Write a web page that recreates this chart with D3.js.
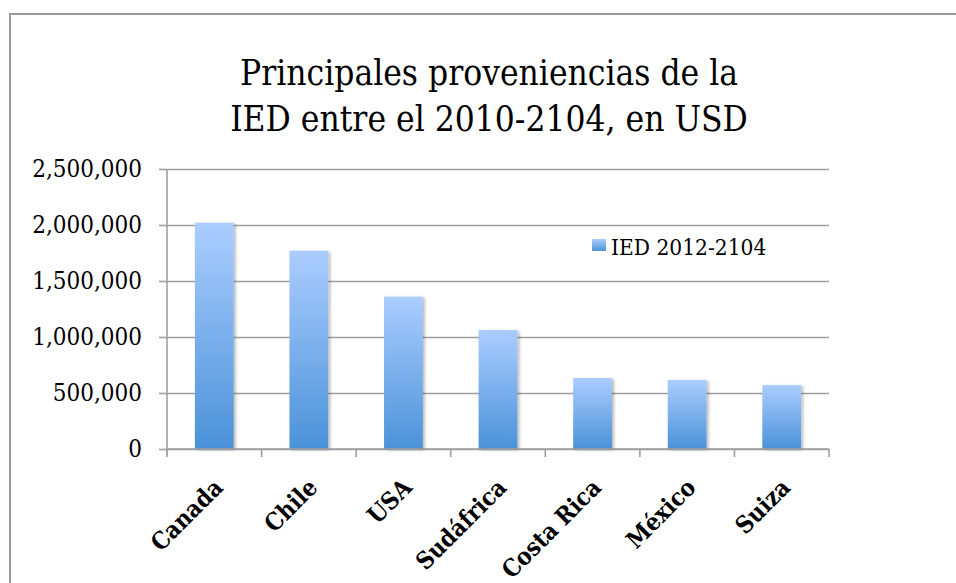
<!DOCTYPE html>
<html>
<head>
<meta charset="utf-8">
<script src="https://cdn.jsdelivr.net/npm/d3@7"></script>
<style>
  html, body { margin: 0; padding: 0; background: #fff; }
  svg { display: block; }
  .serif { font-family: "DejaVu Serif Condensed", "DejaVu Serif", serif; font-stretch: condensed; }
</style>
</head>
<body>
<svg id="chart" width="956" height="583"></svg>
<script>
// Foreign direct investment by origin country (USD)
const categories = ["Canada", "Chile", "USA", "Sudáfrica", "Costa Rica", "México", "Suiza"];
const values = [2020000, 1770000, 1360000, 1062000, 634000, 616000, 571000];
const seriesName = "IED 2012-2104";
const yTicks = [0, 500000, 1000000, 1500000, 2000000, 2500000];
const titleLines = ["Principales proveniencias de la", "IED entre el 2010-2104, en USD"];

const svg = d3.select("#chart");
const W = 956, H = 583;
const plot = { left: 167, right: 829, top: 169, bottom: 449 };
const gridColor = "#9f9f9f";

// defs: bar gradient and soft shadow
const defs = svg.append("defs");
const grad = defs.append("linearGradient")
  .attr("id", "barFill").attr("x1", 0).attr("y1", 0).attr("x2", 0).attr("y2", 1);
grad.append("stop").attr("offset", "0%").attr("stop-color", "#abcdff");
grad.append("stop").attr("offset", "100%").attr("stop-color", "#4b92d8");
const shadow = defs.append("filter").attr("id", "barShadow")
  .attr("x", "-20%").attr("y", "-5%").attr("width", "150%").attr("height", "115%");
shadow.append("feDropShadow")
  .attr("dx", 2).attr("dy", 1).attr("stdDeviation", 1.8)
  .attr("flood-color", "#000").attr("flood-opacity", 0.28);

// outer frame
svg.append("rect")
  .attr("x", 10).attr("y", 14).attr("width", W + 20).attr("height", H + 20)
  .attr("fill", "#fff").attr("stroke", "#9a9a9a").attr("stroke-width", 2);

// title
const title = svg.append("text").attr("class", "serif")
  .attr("text-anchor", "middle").attr("font-size", 35).attr("fill", "#000");
titleLines.forEach((t, i) => {
  title.append("tspan").attr("x", 489).attr("y", 85 + i * 46).text(t);
});

// scales
const x = d3.scaleBand()
  .domain(categories)
  .range([plot.left, plot.right])
  .paddingInner(0.59)
  .paddingOuter(0.295);
const y = d3.scaleLinear()
  .domain([0, 2500000])
  .range([plot.bottom, plot.top]);

// gridlines
const grid = svg.append("g")
  .attr("transform", `translate(${plot.left},0)`)
  .call(d3.axisLeft(y).tickValues(yTicks).tickSize(-(plot.right - plot.left)).tickFormat(""));
grid.select(".domain").remove();
grid.selectAll("line").attr("stroke", gridColor).attr("stroke-width", 1.6);

// y axis
const yAxis = svg.append("g")
  .attr("transform", `translate(${plot.left},0)`)
  .call(d3.axisLeft(y).tickValues(yTicks).tickSize(8).tickPadding(17).tickFormat(d3.format(",")));
yAxis.select(".domain")
  .attr("d", `M0,${plot.top}V${plot.bottom + 6}`)
  .attr("stroke", gridColor).attr("stroke-width", 1.6);
yAxis.selectAll(".tick line").attr("stroke", gridColor).attr("stroke-width", 1.6);
yAxis.selectAll(".tick text")
  .attr("class", "serif").attr("font-size", 24).attr("fill", "#000");

// bars
svg.append("g").selectAll("rect")
  .data(categories)
  .join("rect")
  .attr("x", d => x(d))
  .attr("y", (d, i) => y(values[i]))
  .attr("width", x.bandwidth())
  .attr("height", (d, i) => y(0) - y(values[i]))
  .attr("fill", "url(#barFill)")
  .attr("filter", "url(#barShadow)");

// x axis baseline and category separators
const xAxis = svg.append("g");
xAxis.append("line")
  .attr("x1", plot.left).attr("x2", plot.right)
  .attr("y1", y(0)).attr("y2", y(0))
  .attr("stroke", gridColor).attr("stroke-width", 1.6);
const bounds = d3.range(categories.length + 1).map(i => plot.left + i * x.step());
xAxis.selectAll(".sep")
  .data(bounds)
  .join("line")
  .attr("class", "sep")
  .attr("x1", d => d).attr("x2", d => d)
  .attr("y1", y(0)).attr("y2", y(0) + 8)
  .attr("stroke", gridColor).attr("stroke-width", 1.6);

// rotated category labels
xAxis.selectAll(".cat")
  .data(categories)
  .join("text")
  .attr("class", "cat serif")
  .attr("text-anchor", "end")
  .attr("font-size", 24)
  .attr("font-weight", "bold")
  .attr("fill", "#000")
  .attr("transform", d => `translate(${x(d) + x.bandwidth() / 2 + 10},${y(0) + 40}) rotate(-45)`)
  .text(d => d);

// legend
const legend = svg.append("g").attr("transform", "translate(592,239)");
legend.append("rect").attr("width", 14).attr("height", 12).attr("fill", "url(#barFill)");
legend.append("text").attr("class", "serif")
  .attr("x", 19).attr("y", 16).attr("font-size", 22.5).attr("fill", "#000")
  .text(seriesName);
</script>
</body>
</html>
